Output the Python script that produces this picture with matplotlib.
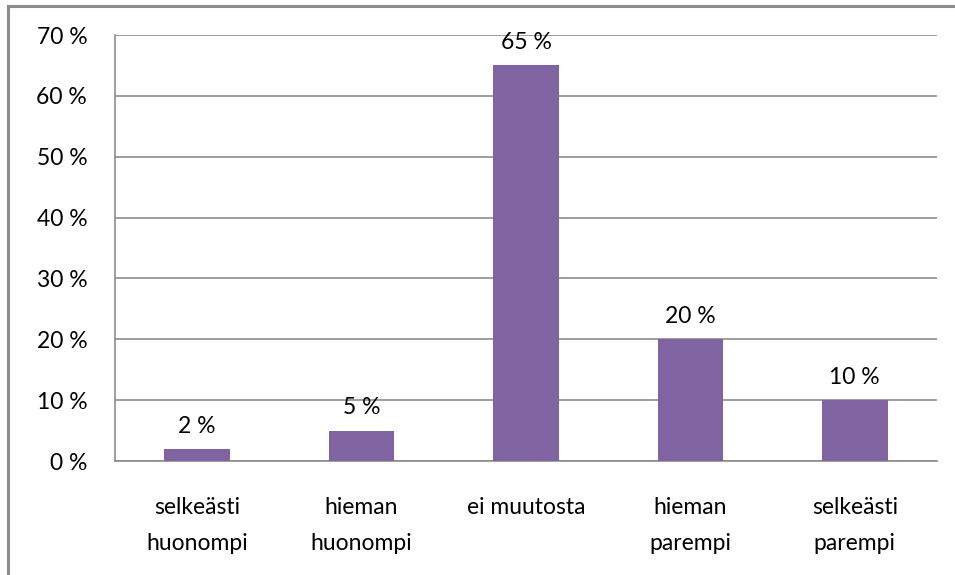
import matplotlib.pyplot as plt
from matplotlib.patches import Rectangle

categories = ['selkeästi\nhuonompi', 'hieman\nhuonompi', 'ei muutosta', 'hieman\nparempi', 'selkeästi\nparempi']
values = [2, 5, 65, 20, 10]
y_ticks = [0, 10, 20, 30, 40, 50, 60, 70]

plt.rcParams['font.family'] = ['Lato', 'DejaVu Sans']

fig = plt.figure(figsize=(9.55, 5.75), dpi=100)
ax = fig.add_axes([115 / 955, 1 - 461 / 575, 822 / 955, 426 / 575])

# outer frame of the chart (only left and top visible)
fig.patches.append(Rectangle((8 / 955, -0.1), 1.5, 1 - 6 / 575 + 0.1, transform=fig.transFigure,
                             fill=False, edgecolor='#8c8c8c', linewidth=2.2))

x = range(len(categories))
bars = ax.bar(x, values, width=0.4, color='#8064A2', zorder=3)
for xi, v in zip(x, values):
    ax.text(xi, v + 2.0, f'{v} %', ha='center', va='bottom', fontsize=16.5)

ax.set_xlim(-0.5, len(categories) - 0.5)
ax.set_ylim(0, 70)
ax.set_yticks(y_ticks)
ax.set_yticklabels([f'{t} %' for t in y_ticks], fontsize=16.5)
ax.set_xticks(list(x))
ax.set_xticklabels(categories, fontsize=16.5, linespacing=1.9)
ax.tick_params(axis='x', length=0, pad=26)
ax.tick_params(axis='y', length=0, pad=20)
ax.yaxis.grid(True, color='#8c8c8c', linewidth=1.2, zorder=0)
ax.set_axisbelow(True)
for side in ['top', 'right']:
    ax.spines[side].set_visible(False)
for side in ['left', 'bottom']:
    ax.spines[side].set_color('#8c8c8c')
    ax.spines[side].set_linewidth(1.2)

fig.savefig('out.png', dpi=100)
